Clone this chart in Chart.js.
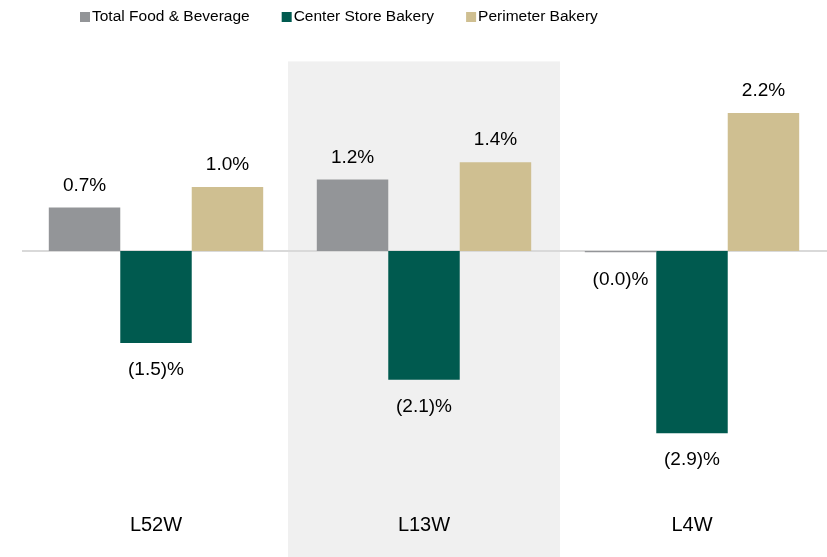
<!DOCTYPE html>
<html>
<head>
<meta charset="utf-8">
<script src="https://cdn.jsdelivr.net/npm/chart.js@4/dist/chart.umd.min.js"></script>
<style>
html,body{margin:0;padding:0;background:#fff;}
#wrap{width:827px;height:557px;position:relative;}
</style>
</head>
<body>
<div id="wrap"><canvas id="c" width="827" height="557"></canvas></div>
<script>
const categories = ["L52W", "L13W", "L4W"];
const seriesNames = ["Total Food & Beverage", "Center Store Bakery", "Perimeter Bakery"];
const totalFoodBev = [0.7, 1.15, -0.02];
const centerStoreBakery = [-1.48, -2.07, -2.93];
const perimeterBakery = [1.03, 1.43, 2.22];
const valueLabels = [
  ["0.7%", "1.2%", "(0.0)%"],
  ["(1.5)%", "(2.1)%", "(2.9)%"],
  ["1.0%", "1.4%", "2.2%"]
];
const colors = ["#939598", "#005a4f", "#cfbf91"];
const FONT = "'Liberation Sans', Arial, Helvetica, sans-serif";

const shadePlugin = {
  id: 'shade',
  beforeDraw(chart) {
    const {ctx, scales: {x}, chartArea} = chart;
    const cx = x.getPixelForValue(1);
    const half = (x.getPixelForValue(1) - x.getPixelForValue(0)) / 2;
    ctx.save();
    ctx.fillStyle = '#f0f0f0';
    ctx.fillRect(cx - half - 2, chartArea.top, half * 2 + 4, chart.height - chartArea.top);
    const y0 = chart.scales.y.getPixelForValue(0);
    ctx.strokeStyle = '#d9d9d9';
    ctx.lineWidth = 2;
    ctx.beginPath();
    ctx.moveTo(chartArea.left, y0);
    ctx.lineTo(chart.width, y0);
    ctx.stroke();
    ctx.restore();
  }
};

const labelPlugin = {
  id: 'vlabels',
  afterDatasetsDraw(chart) {
    const ctx = chart.ctx;
    ctx.save();
    ctx.font = "19px " + FONT;
    ctx.fillStyle = '#000';
    ctx.textAlign = 'center';
    ctx.textBaseline = 'middle';
    chart.data.datasets.forEach((ds, di) => {
      const meta = chart.getDatasetMeta(di);
      meta.data.forEach((bar, i) => {
        const v = ds.data[i];
        const txt = valueLabels[di][i];
        const y = v >= 0 ? bar.y - 22 : bar.y + 27;
        ctx.fillText(txt, bar.x, y);
      });
    });
    ctx.restore();
  }
};

const legendPlugin = {
  id: 'topLegend',
  afterDraw(chart) {
    const ctx = chart.ctx;
    ctx.save();
    ctx.font = "15.5px " + FONT;
    ctx.textBaseline = 'middle';
    ctx.textAlign = 'left';
    let x = 80;
    const y = 17;
    chart.data.datasets.forEach((ds, i) => {
      ctx.fillStyle = ds.backgroundColor;
      ctx.fillRect(x, y - 5, 10, 10);
      x += 12;
      ctx.fillStyle = '#000';
      ctx.fillText(ds.label, x, y);
      x += ctx.measureText(ds.label).width + 32;
    });
    ctx.restore();
  }
};

new Chart(document.getElementById('c'), {
  type: 'bar',
  data: {
    labels: categories,
    datasets: [
      {label: seriesNames[0], data: totalFoodBev, backgroundColor: colors[0]},
      {label: seriesNames[1], data: centerStoreBakery, backgroundColor: colors[1]},
      {label: seriesNames[2], data: perimeterBakery, backgroundColor: colors[2]}
    ]
  },
  options: {
    responsive: false,
    animation: false,
    devicePixelRatio: 1,
    layout: {padding: {top: 61.4, left: 22, right: 1, bottom: 13.2}},
    datasets: {bar: {categoryPercentage: 0.8, barPercentage: 1.0, borderWidth: 0}},
    plugins: {legend: {display: false}, tooltip: {enabled: false}},
    scales: {
      x: {
        grid: {display: false},
        border: {display: false},
        ticks: {color: '#000', font: {family: FONT, size: 20}, padding: 6}
      },
      y: {display: false, min: -4.0, max: 3.05}
    }
  },
  plugins: [shadePlugin, labelPlugin, legendPlugin]
});
</script>
</body>
</html>
